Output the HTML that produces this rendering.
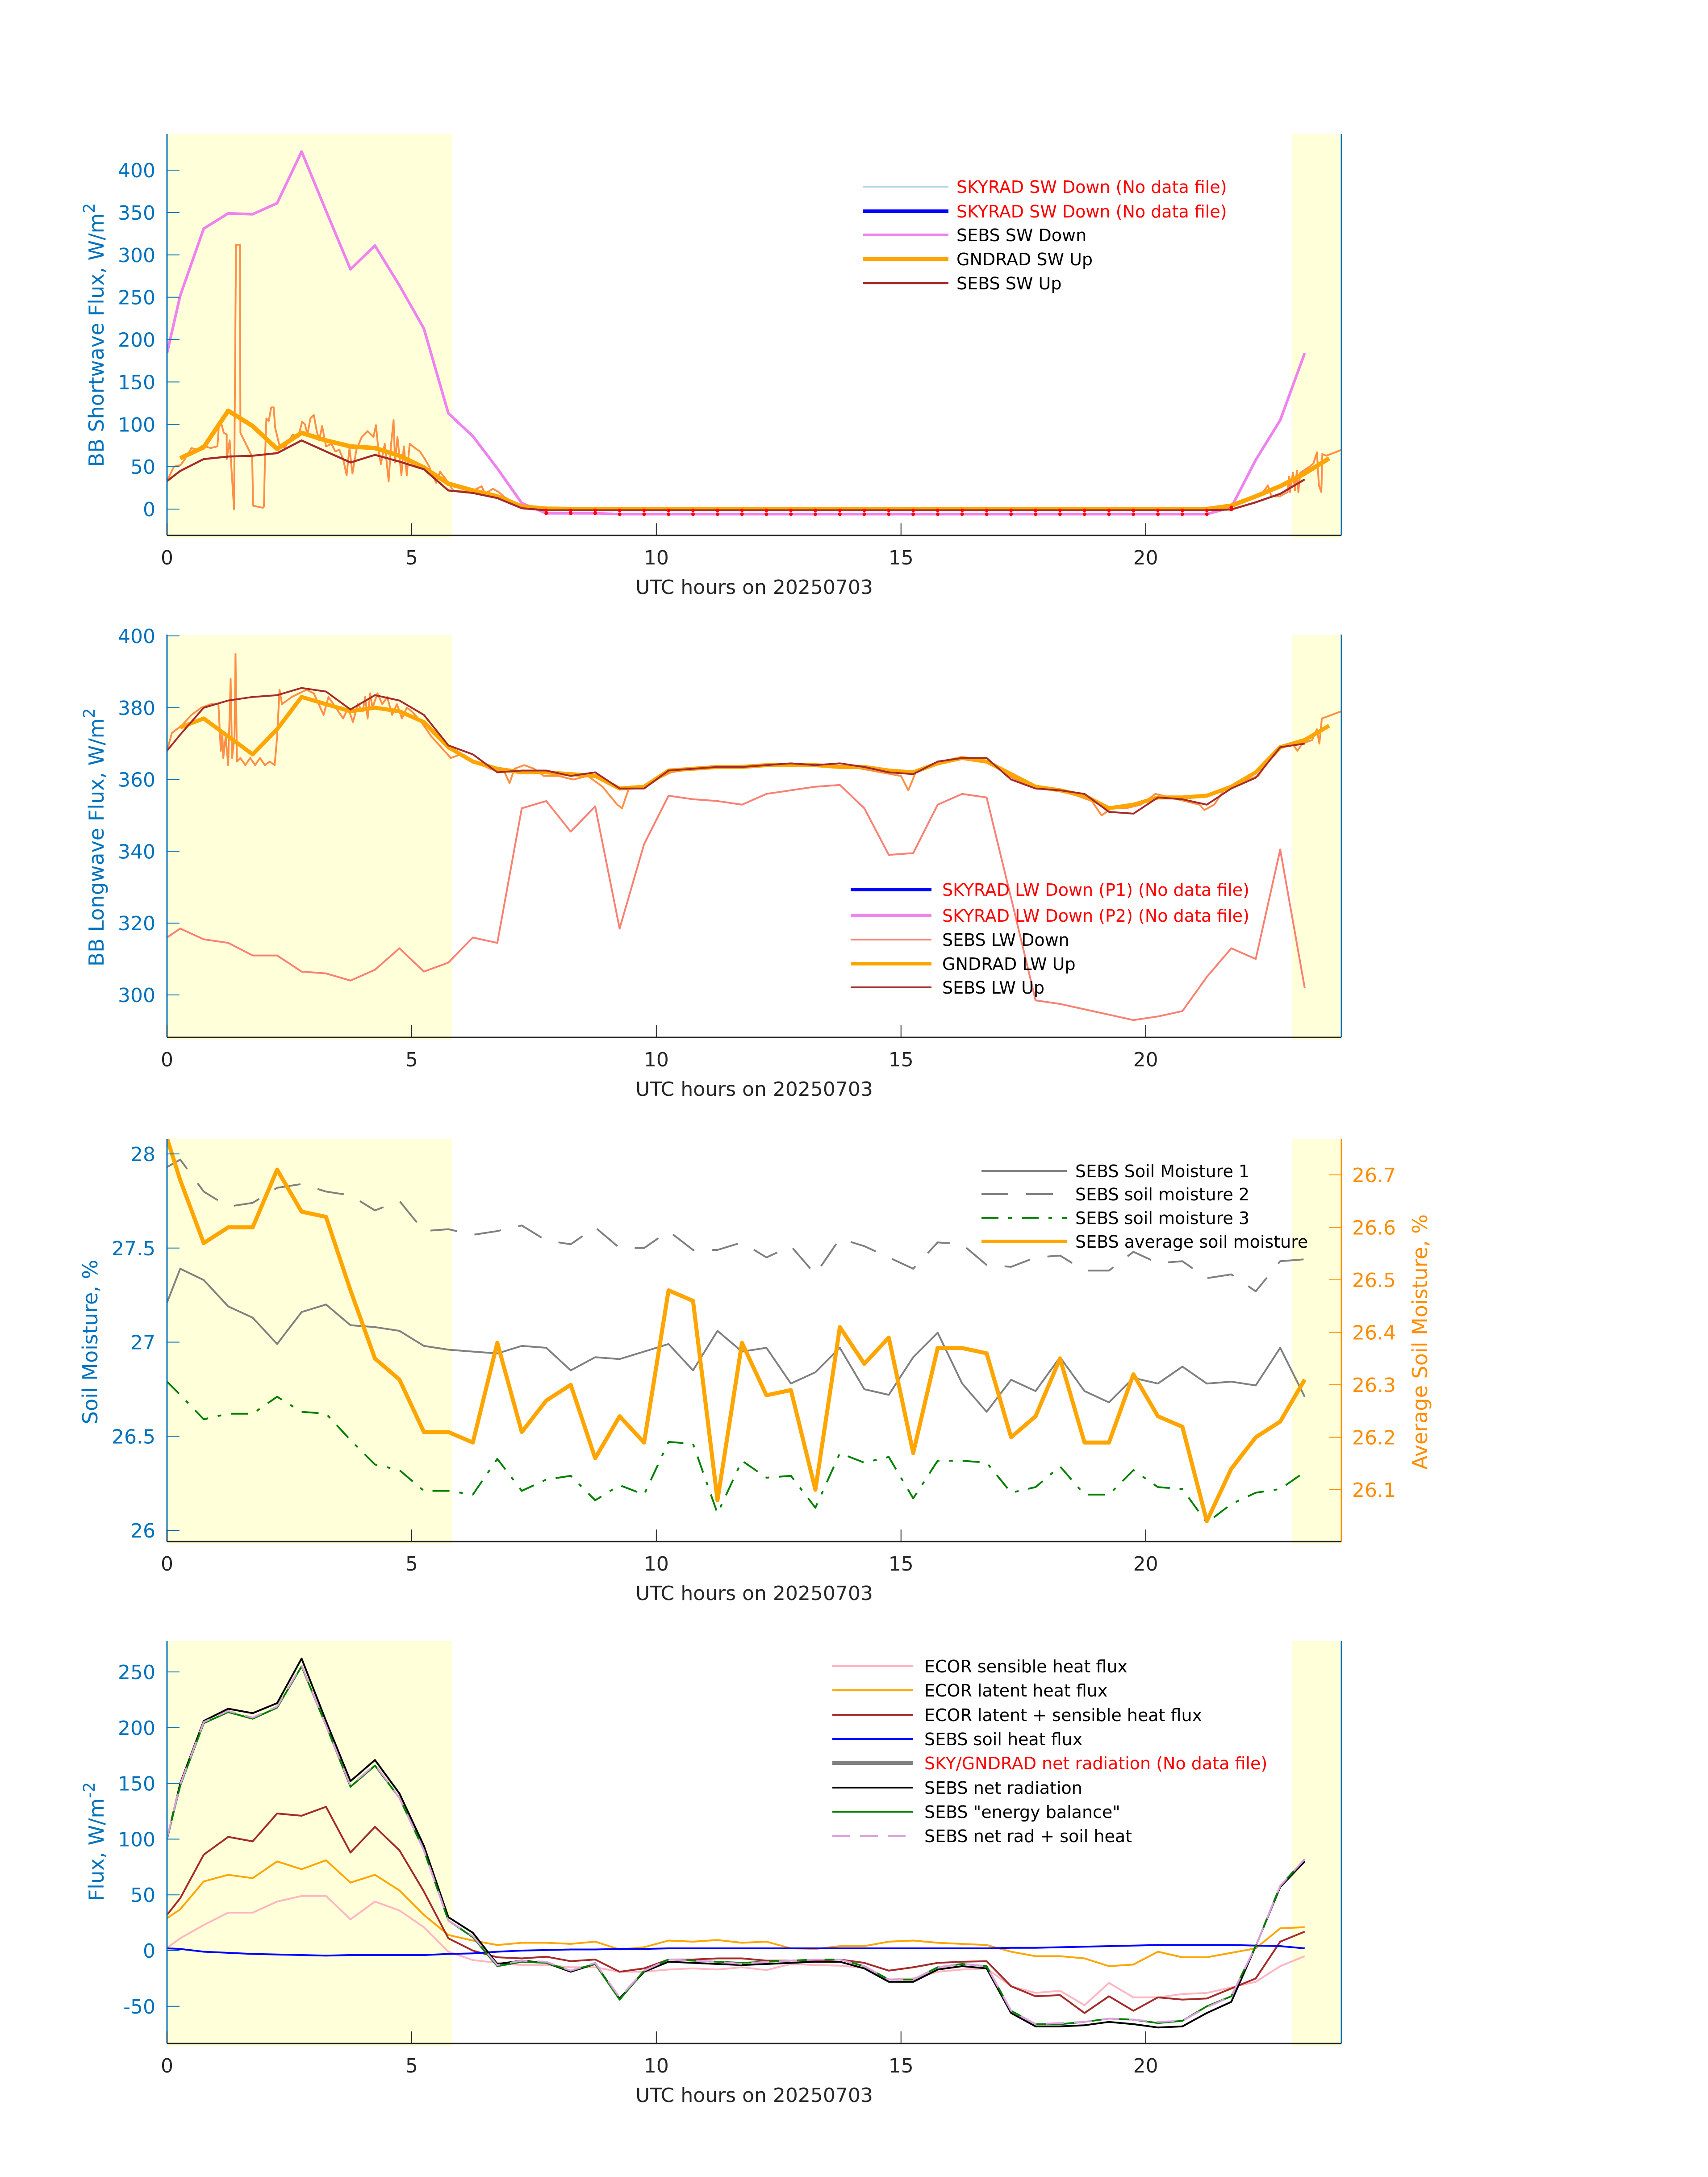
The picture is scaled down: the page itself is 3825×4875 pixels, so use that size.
<!DOCTYPE html>
<html><head><meta charset="utf-8"><title>Radiation and Surface Flux Quicklook 20250703</title>
<style>
html,body{margin:0;padding:0;background:#fff;}
svg{display:block;font-family:"DejaVu Sans","Liberation Sans",sans-serif;}
</style></head>
<body>
<svg id="fig" xmlns="http://www.w3.org/2000/svg" width="3825" height="4875" viewBox="0 0 3825 4875"></svg>
<script>
// ---------- shared time axis ----------
const tHalf = [0,0.27,0.75,1.25,1.75,2.25,2.75,3.25,3.75,4.25,4.75,5.25,5.75,6.25,6.75,7.25,7.75,8.25,8.75,9.25,9.75,10.25,10.75,11.25,11.75,12.25,12.75,13.25,13.75,14.25,14.75,15.25,15.75,16.25,16.75,17.25,17.75,18.25,18.75,19.25,19.75,20.25,20.75,21.25,21.75,22.25,22.75,23.25];
const tGnd = [0.27,0.75,1.25,1.75,2.25,2.75,3.25,3.75,4.25,4.75,5.25,5.75,6.25,6.75,7.25,7.75,8.25,8.75,9.25,9.75,10.25,10.75,11.25,11.75,12.25,12.75,13.25,13.75,14.25,14.75,15.25,15.75,16.25,16.75,17.25,17.75,18.25,18.75,19.25,19.75,20.25,20.75,21.25,21.75,22.25,22.75,23.25,23.75];
const xTicks = [0,5,10,15,20];

// ---------- panel 1: shortwave ----------
const swDown = [184,252,331,349,348,361,422,352,283,311,264,213,113,86,48,7,-5,-5,-5,-6,-6,-6,-6,-6,-6,-6,-6,-6,-6,-6,-6,-6,-6,-6,-6,-6,-6,-6,-6,-6,-6,-6,-6,-6,2,58,105,184];
const swUpSebs = [33,45,59,62,63,66,81,68,55,64,56,47,22,19,13,1,-1.5,-1.5,-1.5,-1.5,-1.5,-1.5,-1.5,-1.5,-1.5,-1.5,-1.5,-1.5,-1.5,-1.5,-1.5,-1.5,-1.5,-1.5,-1.5,-1.5,-1.5,-1.5,-1.5,-1.5,-1.5,-1.5,-1.5,-1.5,-0.5,8,18,35];
const swUpGnd = [60,73,116,98,71,90,81,74,72,63,49,30,22,15,3,0.5,0,0,0,0,0,0,0,0,0,0,0,0,0,0,0,0,0,0,0,0,0,0,0,0,0,0,0,4,15,27,42,60];
const swFineT = [0,0.14,0.28,0.4,0.5,0.62,0.73,0.89,1.03,1.06,1.12,1.16,1.22,1.22,1.28,1.37,1.41,1.49,1.5,1.74,1.76,1.96,1.98,2.0,2.03,2.08,2.13,2.18,2.21,2.29,2.4,2.57,2.68,2.76,2.82,2.87,2.93,3.0,3.06,3.11,3.17,3.25,3.36,3.44,3.52,3.6,3.67,3.73,3.79,3.87,3.98,4.1,4.22,4.27,4.32,4.37,4.45,4.53,4.58,4.63,4.66,4.71,4.79,4.84,4.9,4.96,5.07,5.17,5.27,5.35,5.43,5.5,5.58,5.7,5.85,6.2,6.43,6.5,6.66,6.78,6.9,7.12,7.28,7.44,21.5,21.95,22.4,22.5,22.57,22.74,22.9,22.93,22.95,23.01,23.05,23.09,23.12,23.16,23.35,23.43,23.5,23.54,23.59,23.61,23.69,23.92,24.0];
const swFineV = [33,50,52,62,72,70,75,72,74,99,99,90,88,59,81,0,312,312,90,62,4,1.5,3,55,107,104,120,120,96,77,72,88,85,103,100,88,107,111,92,81,98,74,77,68,70,59,40,72,42,70,85,92,85,99,70,53,77,33,77,105,55,85,40,74,40,77,72,68,59,51,40,31,44,35,22,20,27,18,24,20,14,7,3,0,0,9,20,28,15,15,20,38,20,43,22,45,20,43,50,54,67,28,20,65,63,68,70];
const swTicks = [0,50,100,150,200,250,300,350,400];
const swRedDotT = [7.75,8.25,8.75,9.25,9.75,10.25,10.75,11.25,11.75,12.25,12.75,13.25,13.75,14.25,14.75,15.25,15.75,16.25,16.75,17.25,17.75,18.25,18.75,19.25,19.75,20.25,20.75,21.25,21.75];

// ---------- panel 2: longwave ----------
const lwDown = [316,318.5,315.5,314.5,311,311,306.5,306,304,307,313,306.5,309,316,314.5,352,354,345.5,352.5,318.5,342,355.5,354.5,354,353,356,357,358,358.5,352,339,339.5,353,356,355,327,298.5,297.5,296,294.5,293,294,295.5,305,313,310,340.5,302];
const lwUpSebs = [368,372.5,380,382,383,383.5,385.5,384.5,379.5,383.5,382,378,369.5,367,362,362.5,362.5,361,362,357.5,357.5,362.5,363,363.5,363.5,364,364.5,364,364.5,363.5,362,361.5,365,366,366,360,357.5,357,356,351,350.5,355,354.5,353,357.5,360.5,369,370];
const lwUpGnd = [374.5,377,372,367,374,383,381,379,380,379,376,369,365,363,362,362,361.5,361,357.5,358,362.5,363,363.5,363.5,364,364,364,363.5,363.5,362.5,362,364.5,366,365,361.5,358,357,355.5,352,353,355,355,355.5,358,362,369,371,375];
const lwFineT = [0,0.1,0.3,0.5,0.7,0.9,1.05,1.1,1.13,1.15,1.2,1.25,1.3,1.33,1.38,1.4,1.43,1.5,1.6,1.7,1.8,1.9,2.0,2.1,2.2,2.25,2.3,2.35,2.45,2.55,2.7,2.85,3.0,3.1,3.2,3.3,3.4,3.5,3.6,3.7,3.8,3.9,4.0,4.05,4.1,4.15,4.2,4.3,4.4,4.5,4.6,4.7,4.8,4.9,5.0,5.2,5.4,5.6,5.8,6.0,6.3,6.6,6.9,7.0,7.1,7.3,7.5,7.7,8.0,8.3,8.6,8.9,9.2,9.3,9.45,9.7,10.0,10.3,10.7,11.2,12,13,14,14.6,15.0,15.15,15.3,15.6,16.0,16.5,16.9,17.2,17.5,17.8,18.2,18.6,18.9,19.1,19.3,19.6,19.9,20.2,20.5,20.8,21.1,21.2,21.4,21.6,21.9,22.1,22.3,22.5,22.65,22.8,23.0,23.1,23.2,23.4,23.5,23.55,23.6,23.8,24.0];
const lwFineV = [368,373,375,378,380,381,381,368,373,366,372,364,388,366,372,395,365,366,364,366,364,366,364,365,364,372,385,381,382,383,384,385,384,381,378,383,381,379,377,380,376,381,379,383,377,384,380,384,381,383,378,381,377,380,379,376,372,369,366,367,365,363,362,359,363,364,363,361,361,360,361,358,353,352,358,358,360,362,363,363.5,364,364,363.5,362,361,357,362,364,365.5,366,364,361,359,358,357,355.5,354,350,352,352,353,356,355,354,353,351.5,353,357,359,360,361,365,367,369.5,370,368,370,371,374,370,377,378,379];
const lwTicks = [300,320,340,360,380,400];

// ---------- panel 3: soil moisture ----------
const sm1 = [27.21,27.39,27.33,27.19,27.13,26.99,27.16,27.2,27.09,27.08,27.06,26.98,26.96,26.95,26.94,26.98,26.97,26.85,26.92,26.91,26.95,26.99,26.85,27.06,26.95,26.97,26.78,26.84,26.97,26.75,26.72,26.92,27.05,26.78,26.63,26.8,26.74,26.92,26.74,26.68,26.81,26.78,26.87,26.78,26.79,26.77,26.97,26.71];
const sm2 = [27.93,27.97,27.8,27.72,27.74,27.82,27.84,27.8,27.78,27.7,27.75,27.59,27.6,27.57,27.59,27.62,27.54,27.52,27.61,27.5,27.5,27.59,27.49,27.49,27.53,27.45,27.51,27.36,27.55,27.51,27.45,27.39,27.53,27.52,27.41,27.4,27.45,27.46,27.38,27.38,27.48,27.42,27.43,27.34,27.36,27.27,27.43,27.44];
const sm3 = [26.79,26.72,26.59,26.62,26.62,26.71,26.63,26.62,26.48,26.35,26.32,26.21,26.21,26.19,26.38,26.21,26.27,26.29,26.16,26.24,26.19,26.47,26.46,26.09,26.37,26.28,26.29,26.12,26.41,26.36,26.39,26.17,26.37,26.37,26.36,26.2,26.23,26.34,26.19,26.19,26.32,26.23,26.22,26.04,26.14,26.2,26.22,26.31];
const smAvg = [26.77,26.69,26.57,26.6,26.6,26.71,26.63,26.62,26.48,26.35,26.31,26.21,26.21,26.19,26.38,26.21,26.27,26.3,26.16,26.24,26.19,26.48,26.46,26.08,26.38,26.28,26.29,26.1,26.41,26.34,26.39,26.17,26.37,26.37,26.36,26.2,26.24,26.35,26.19,26.19,26.32,26.24,26.22,26.04,26.14,26.2,26.23,26.31];
const smTicks = [26,26.5,27,27.5,28];
const smTickLabels = ["26","26.5","27","27.5","28"];
const avgTicks = [26.1,26.2,26.3,26.4,26.5,26.6,26.7];

// ---------- panel 4: surface energy fluxes ----------
const ecorSens = [2.5,11,23,34,34,44,49,49,28,44,36,21,-1,-8.5,-11,-13,-13,-15,-15,-19,-19,-17,-16,-17,-15,-17.5,-12,-13,-13.5,-15.5,-26,-25,-19,-17,-16,-32,-38,-36,-49,-29,-42,-42,-39,-38,-33,-28,-14,-5];
const ecorLat = [29,37,62,68,65,80,73,81,61,68,54,32,14,9,5,7,7,6,8,1,3,9,8,9.5,7,8,2,1.5,4,4,8,9,7,6,5,-1,-5,-5,-7,-14,-12.5,-1,-6,-6,-2,2,20,21];
const ecorSum = [32,47,86,102,98,123,121,129,88,111,90,53,11,0,-6,-7,-5.5,-9.5,-8,-19,-16,-8,-8,-7,-7,-9,-9,-9,-8,-11,-18,-15,-11,-10,-9.5,-32,-41,-40,-56,-41,-54,-42,-44,-43,-34,-25,8,17];
const soilHeat = [2,1.5,-1,-2,-3,-3.5,-4,-4.5,-4,-4,-4,-4,-3,-2.5,-1,0,0.5,1,1,1.5,1.5,2,2,2,2,2,2,2,2,2,2,2,2,2,2,2.5,2.5,3,3.5,4,4.5,5,5,5,5,4.5,4,2];
const netRad = [100,150,206,217,213,222,262,206,152,171,141,94,30,16,-12,-9,-11,-19,-12,-43,-19,-10,-11,-12,-13,-12,-11,-10,-10,-16,-28,-28,-17,-14,-16,-56,-68,-68,-67,-64,-66,-69,-68,-56,-46,4,57,80];
const energyBal = [100,148,204,214,208,218,255,202,147,166,137,90,27,12,-14,-10,-11,-18,-12,-44,-18,-8,-9,-10,-11,-10,-9,-8,-8,-14,-26,-26,-15,-12,-14,-54,-66,-66,-64,-61,-62,-65,-63,-50,-41,4,58,82];
const netPlusSoil = [101,149,205,215,209,219,256,202,148,167,137,90,27,13,-13,-9,-10,-18,-11,-42,-18,-8,-9,-10,-12,-10,-9,-8,-8,-14,-26,-26,-15,-12,-14,-54,-66,-65,-64,-61,-62,-64,-63,-51,-41,4,58,82];
const fluxTicks = [-50,0,50,100,150,200,250];

// ---------- drawing helpers ----------
const NS = "http://www.w3.org/2000/svg";
const svg = document.getElementById('fig');
const X0 = 374, X1 = 3004, XMAX = 24;
const LEG_FS = 38;
function xs(h){ return X0 + h*(X1-X0)/XMAX; }
function el(tag, attrs, parent){
  const e = document.createElementNS(NS, tag);
  for (const k in attrs) e.setAttribute(k, attrs[k]);
  (parent||svg).appendChild(e);
  return e;
}
function txt(str, attrs, parent){
  const e = el('text', attrs, parent);
  e.textContent = str;
  return e;
}
function pathD(ts, vs, ys){
  let d = '';
  for (let i=0;i<ts.length;i++){ d += (i?'L':'M') + xs(ts[i]).toFixed(1) + ',' + ys(vs[i]).toFixed(1); }
  return d;
}
function makeY(v1, y1, v2, y2){ return v => y1 + (v - v1)*(y2 - y1)/(v2 - v1); }

function panelFrame(g, top, bottom, name){
  const bg = el('rect', {x:X0, y:top, width:xs(5.83)-X0, height:bottom-top+6, fill:'#FFFFD9'}, g);
  
  
  const bg2 = el('rect', {x:xs(22.99), y:top, width:X1-xs(22.99), height:bottom-top+6, fill:'#FFFFD9'}, g);
  
  
}
function xAxis(g, bottom, name){
  const ax = el('line', {x1:X0, y1:bottom, x2:X1, y2:bottom, stroke:'#262626', 'stroke-width':3}, g);
  
  
  xTicks.forEach(h => {
    el('line', {x1:xs(h), y1:bottom, x2:xs(h), y2:bottom-27, stroke:'#262626', 'stroke-width':2}, g);
    const t = txt(String(h), {x:xs(h), y:bottom+65, 'font-size':44, fill:'#262626', 'text-anchor':'middle'}, g);
    
    
  });
  const xt = txt('UTC hours on 20250703', {x:(X0+X1)/2, y:bottom+131, 'font-size':44, fill:'#262626', 'text-anchor':'middle'}, g);
  
  
}
function yAxisLeft(g, top, bottom, ticks, labels, ys, name, color){
  const ax = el('line', {x1:X0, y1:top, x2:X0, y2:bottom, stroke:color, 'stroke-width':3}, g);
  
  
  ticks.forEach((v,i) => {
    el('line', {x1:X0, y1:ys(v), x2:X0+28, y2:ys(v), stroke:color, 'stroke-width':2}, g);
    const t = txt(labels[i], {x:348, y:ys(v)+16, 'font-size':44, fill:color, 'text-anchor':'end'}, g);
    
    
  });
}
function yTitle(g, x, cy, main, sup, name, color){
  const t = el('text', {x:0, y:0, 'font-size':46, fill:color, 'text-anchor':'middle', transform:'translate('+x+','+cy+') rotate(-90)'}, g);
  
  
  const a = document.createElementNS(NS,'tspan'); a.textContent = main; t.appendChild(a);
  if (sup){
    const b = document.createElementNS(NS,'tspan');
    b.setAttribute('dy', '-20'); b.setAttribute('font-size', '36'); b.textContent = sup; t.appendChild(b);
  }
  return t;
}
function series(g, ts, vs, ys, style, name){
  const p = el('path', Object.assign({d:pathD(ts, vs, ys), fill:'none', 'stroke-linejoin':'round'}, style), g);
  
  
  return p;
}
function legend(g, x1, x2, tx, rows, name){
  const lg = el('g', {}, g);
  
  
  rows.forEach(r => {
    el('line', Object.assign({x1:x1, y1:r.y, x2:x2, y2:r.y}, r.style), lg);
    const t = txt(r.label, {x:tx, y:r.y+14, 'font-size':LEG_FS, fill:r.color||'#000'}, lg);
    
    
  });
}
function rightEdge(g, top, bottom, color){
  el('line', {x1:X1, y1:top, x2:X1, y2:bottom, stroke:color, 'stroke-width':3}, g);
}

// ===== Panel 1 =====
(function(){
  const g = el('g', {});
  
  
  const top=300, bottom=1199;
  const ys = makeY(0, 1140, 400, 381);
  panelFrame(g, top, bottom, 'sw');
  const clip = el('clipPath', {id:'c1'}, g); el('rect', {x:X0, y:top, width:X1-X0, height:bottom-top}, clip);
  const pg = el('g', {'clip-path':'url(#c1)'}, g);
  series(pg, tHalf, swDown, ys, {stroke:'#EE82EE', 'stroke-width':6}, 'sebs-sw-down-line');
  series(pg, swFineT, swFineV, ys, {stroke:'#FF8F45', 'stroke-width':4}, 'gndrad-sw-up-fine-line');
  series(pg, tGnd, swUpGnd, ys, {stroke:'#FFA500', 'stroke-width':10}, 'gndrad-sw-up-line');
  series(pg, tHalf, swUpSebs, ys, {stroke:'#A52A2A', 'stroke-width':4.5}, 'sebs-sw-up-line');
  swRedDotT.forEach(h => {
    const i = tHalf.indexOf(h);
    el('circle', {cx:xs(h), cy:ys(swDown[i]), r:4, fill:'#FF0000'}, pg);
    el('circle', {cx:xs(h), cy:ys(swUpSebs[i]), r:4, fill:'#FF0000'}, pg);
  });
  yAxisLeft(g, top, bottom, swTicks, swTicks.map(String), ys, 'sw', '#0072BD');
  rightEdge(g, top, bottom, '#0072BD');
  xAxis(g, bottom, 'sw');
  yTitle(g, 232, 750, 'BB Shortwave Flux, W/m', '2', 'sw-y-axis-title', '#0072BD');
  legend(g, 1932, 2124, 2142, [
    {y:418, label:'SKYRAD SW Down (No data file)', color:'#FF0000', style:{stroke:'#ADD8E6','stroke-width':4}},
    {y:473, label:'SKYRAD SW Down (No data file)', color:'#FF0000', style:{stroke:'#0000FF','stroke-width':8}},
    {y:526, label:'SEBS SW Down', style:{stroke:'#EE82EE','stroke-width':6}},
    {y:580, label:'GNDRAD SW Up', style:{stroke:'#FFA500','stroke-width':8}},
    {y:634, label:'SEBS SW Up', style:{stroke:'#A52A2A','stroke-width':4.5}}
  ], 'sw-legend');
})();

// ===== Panel 2 =====
(function(){
  const g = el('g', {});
  
  
  const top=1421, bottom=2323;
  const ys = makeY(300, 2228, 400, 1424);
  panelFrame(g, top, bottom, 'lw');
  const clip = el('clipPath', {id:'c2'}, g); el('rect', {x:X0, y:top, width:X1-X0, height:bottom-top}, clip);
  const pg = el('g', {'clip-path':'url(#c2)'}, g);
  series(pg, tHalf, lwDown, ys, {stroke:'#FA8072', 'stroke-width':4}, 'sebs-lw-down-line');
  series(pg, lwFineT, lwFineV, ys, {stroke:'#FF8F45', 'stroke-width':4}, 'gndrad-lw-up-fine-line');
  series(pg, tGnd, lwUpGnd, ys, {stroke:'#FFA500', 'stroke-width':9}, 'gndrad-lw-up-line');
  series(pg, tHalf, lwUpSebs, ys, {stroke:'#A52A2A', 'stroke-width':4}, 'sebs-lw-up-line');
  yAxisLeft(g, top, bottom, lwTicks, lwTicks.map(String), ys, 'lw', '#0072BD');
  rightEdge(g, top, bottom, '#0072BD');
  xAxis(g, bottom, 'lw');
  yTitle(g, 232, 1875, 'BB Longwave Flux, W/m', '2', 'lw-y-axis-title', '#0072BD');
  legend(g, 1905, 2086, 2110, [
    {y:1992, label:'SKYRAD LW Down (P1) (No data file)', color:'#FF0000', style:{stroke:'#0000FF','stroke-width':8}},
    {y:2050, label:'SKYRAD LW Down (P2) (No data file)', color:'#FF0000', style:{stroke:'#EE82EE','stroke-width':8}},
    {y:2104, label:'SEBS LW Down', style:{stroke:'#FA8072','stroke-width':4}},
    {y:2158, label:'GNDRAD LW Up', style:{stroke:'#FFA500','stroke-width':8}},
    {y:2211, label:'SEBS LW Up', style:{stroke:'#A52A2A','stroke-width':4}}
  ], 'lw-legend');
})();

// ===== Panel 3 =====
(function(){
  const g = el('g', {});
  
  
  const top=2551, bottom=3452;
  const ys = makeY(26, 3427, 28, 2584);
  const yr = makeY(26.1, 3336, 26.7, 2631);
  panelFrame(g, top, bottom, 'sm');
  const clip = el('clipPath', {id:'c3'}, g); el('rect', {x:X0, y:top, width:X1-X0, height:bottom-top}, clip);
  const pg = el('g', {'clip-path':'url(#c3)'}, g);
  series(pg, tHalf, sm1, ys, {stroke:'#808080', 'stroke-width':4}, 'soil-moisture-1-line');
  series(pg, tHalf, sm2, ys, {stroke:'#808080', 'stroke-width':4, 'stroke-dasharray':'60 40'}, 'soil-moisture-2-line');
  series(pg, tHalf, sm3, ys, {stroke:'#008000', 'stroke-width':4, 'stroke-dasharray':'38 22 8 22'}, 'soil-moisture-3-line');
  series(pg, tHalf, smAvg, yr, {stroke:'#FFA500', 'stroke-width':9}, 'average-soil-moisture-line');
  yAxisLeft(g, top, bottom, smTicks, smTickLabels, ys, 'sm', '#0072BD');
  const rax = el('line', {x1:X1, y1:top, x2:X1, y2:bottom, stroke:'#FF8C00', 'stroke-width':3}, g);
  
  
  avgTicks.forEach(v => {
    el('line', {x1:X1-28, y1:yr(v), x2:X1, y2:yr(v), stroke:'#FF8C00', 'stroke-width':2}, g);
    const t = txt(v.toFixed(1), {x:3028, y:yr(v)+16, 'font-size':44, fill:'#FF8C00'}, g);
    
    
  });
  xAxis(g, bottom, 'sm');
  yTitle(g, 218, 3005, 'Soil Moisture, %', '', 'sm-y-axis-title', '#0072BD');
  yTitle(g, 3196, 3005, 'Average Soil Moisture, %', '', 'sm-right-y-axis-title', '#FF8C00');
  legend(g, 2198, 2389, 2408, [
    {y:2622, label:'SEBS Soil Moisture 1', style:{stroke:'#808080','stroke-width':4}},
    {y:2674, label:'SEBS soil moisture 2', style:{stroke:'#808080','stroke-width':4,'stroke-dasharray':'60 40'}},
    {y:2727, label:'SEBS soil moisture 3', style:{stroke:'#008000','stroke-width':4,'stroke-dasharray':'38 22 8 22'}},
    {y:2780, label:'SEBS average soil moisture', style:{stroke:'#FFA500','stroke-width':8}}
  ], 'sm-legend');
})();

// ===== Panel 4 =====
(function(){
  const g = el('g', {});
  
  
  const top=3674, bottom=4576;
  const ys = makeY(0, 4368, 250, 3744);
  panelFrame(g, top, bottom, 'flux');
  const clip = el('clipPath', {id:'c4'}, g); el('rect', {x:X0, y:top, width:X1-X0, height:bottom-top}, clip);
  const pg = el('g', {'clip-path':'url(#c4)'}, g);
  series(pg, tHalf, ecorSens, ys, {stroke:'#FFB6C1', 'stroke-width':4}, 'ecor-sensible-line');
  series(pg, tHalf, ecorLat, ys, {stroke:'#FFA500', 'stroke-width':4}, 'ecor-latent-line');
  series(pg, tHalf, ecorSum, ys, {stroke:'#A52A2A', 'stroke-width':4}, 'ecor-latent-plus-sensible-line');
  series(pg, tHalf, soilHeat, ys, {stroke:'#0000FF', 'stroke-width':4}, 'sebs-soil-heat-flux-line');
  series(pg, tHalf, netRad, ys, {stroke:'#000000', 'stroke-width':4}, 'sebs-net-radiation-line');
  series(pg, tHalf, energyBal, ys, {stroke:'#008000', 'stroke-width':4}, 'sebs-energy-balance-line');
  series(pg, tHalf, netPlusSoil, ys, {stroke:'#DDA0DD', 'stroke-width':4, 'stroke-dasharray':'40 22'}, 'sebs-net-rad-plus-soil-heat-line');
  yAxisLeft(g, top, bottom, fluxTicks, fluxTicks.map(String), ys, 'flux', '#0072BD');
  rightEdge(g, top, bottom, '#0072BD');
  xAxis(g, bottom, 'flux');
  yTitle(g, 232, 4124, 'Flux, W/m', '-2', 'flux-y-axis-title', '#0072BD');
  legend(g, 1864, 2045, 2070, [
    {y:3731, label:'ECOR sensible heat flux', style:{stroke:'#FFB6C1','stroke-width':4}},
    {y:3785, label:'ECOR latent heat flux', style:{stroke:'#FFA500','stroke-width':4}},
    {y:3840, label:'ECOR latent + sensible heat flux', style:{stroke:'#A52A2A','stroke-width':4}},
    {y:3894, label:'SEBS soil heat flux', style:{stroke:'#0000FF','stroke-width':4}},
    {y:3948, label:'SKY/GNDRAD net radiation (No data file)', color:'#FF0000', style:{stroke:'#808080','stroke-width':8}},
    {y:4003, label:'SEBS net radiation', style:{stroke:'#000000','stroke-width':4}},
    {y:4057, label:'SEBS "energy balance"', style:{stroke:'#008000','stroke-width':4}},
    {y:4111, label:'SEBS net rad + soil heat', style:{stroke:'#DDA0DD','stroke-width':4,'stroke-dasharray':'40 22'}}
  ], 'flux-legend');
})();
</script>
</body></html>
